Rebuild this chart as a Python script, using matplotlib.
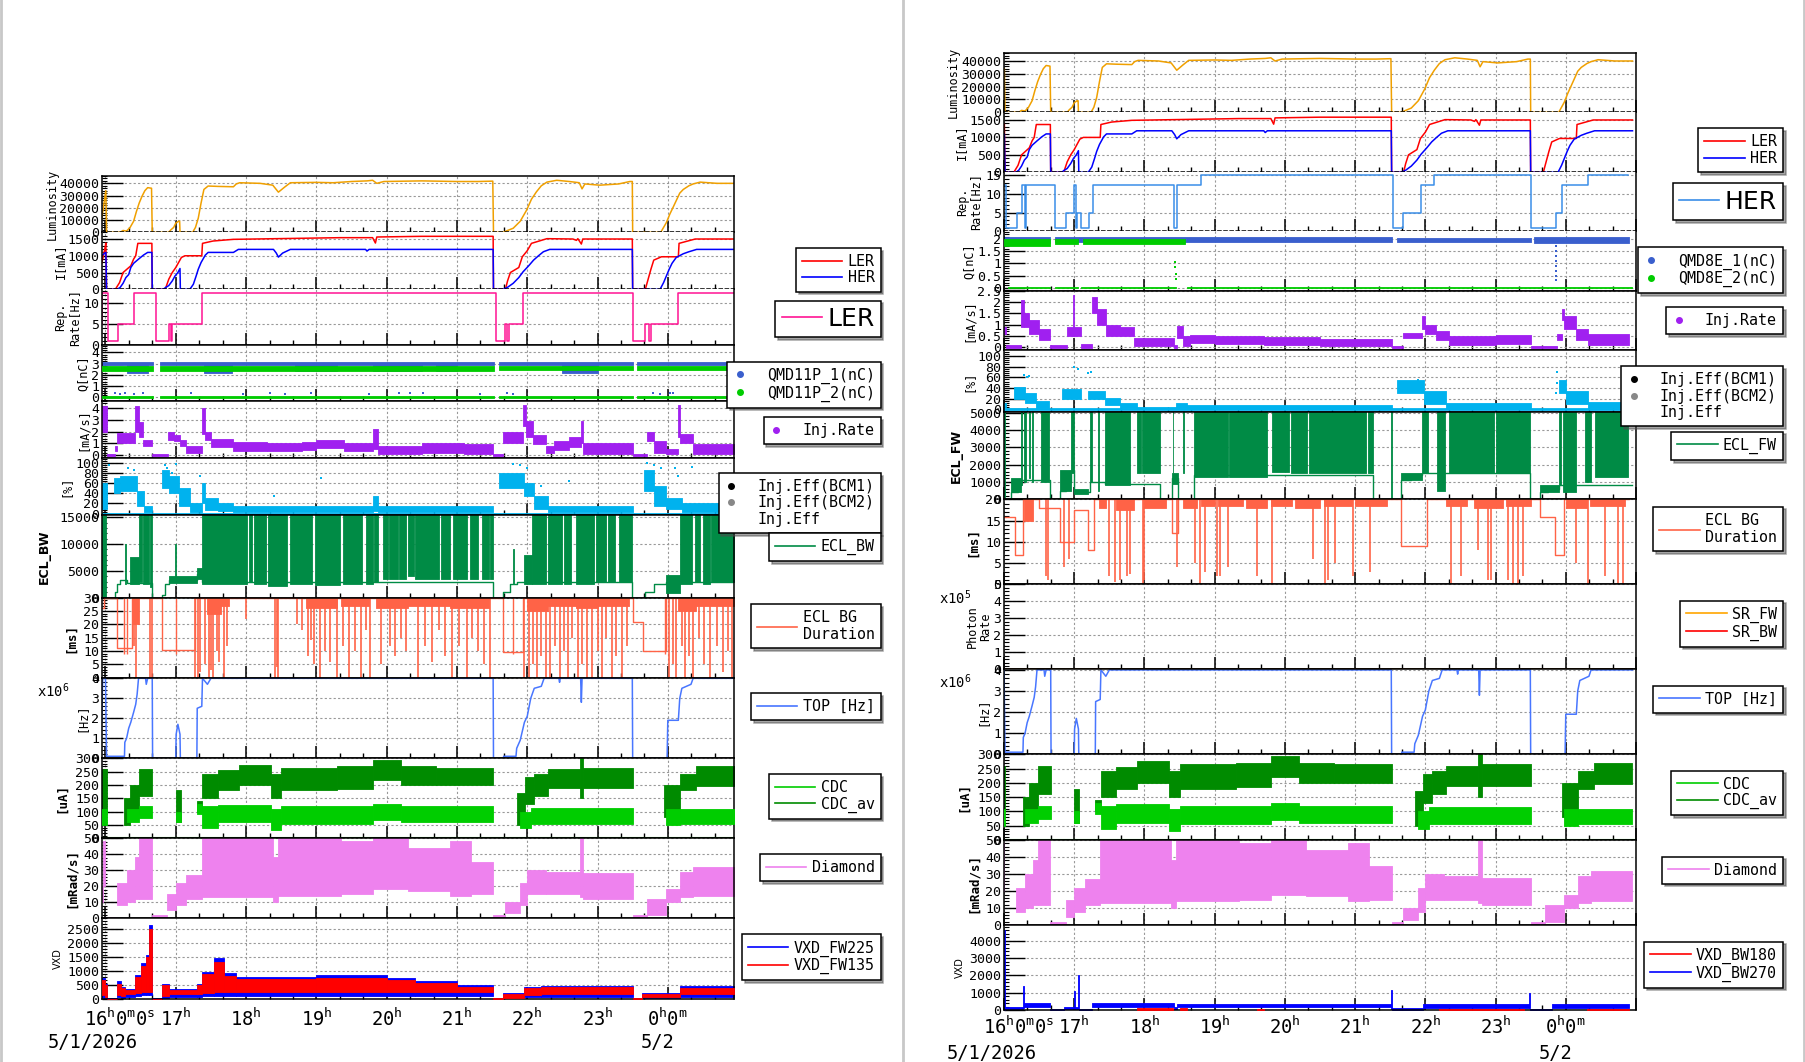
import matplotlib
matplotlib.use("Agg")
import matplotlib.pyplot as plt
from matplotlib.lines import Line2D
from matplotlib.ticker import MultipleLocator, AutoMinorLocator, FuncFormatter

#########################################################
                # Data (time in hours, 24 = 0h on 5/2)
#########################################################

LUMI_T = [15.946, 16.005, 16.015, 16.21, 16.25, 16.3, 16.35, 16.4, 16.44, 16.48, 16.52, 16.56, 16.6, 16.655,
          16.665, 16.9, 16.93, 16.97, 17.0, 17.04, 17.055, 17.06, 17.24, 17.28, 17.32, 17.36, 17.4, 17.46,
          17.6, 17.82, 17.86, 17.91, 18.2, 18.38, 18.46, 18.55, 18.63, 19.0, 19.24, 19.5, 19.72, 19.8,
          19.86, 19.96, 20.5, 21.0, 21.3, 21.51, 21.52, 21.66, 21.72, 21.8, 21.9, 21.99, 22.06, 22.13,
          22.2, 22.28, 22.42, 22.6, 22.74, 22.78, 22.82, 23.03, 23.3, 23.46, 23.495, 23.5, 23.9, 23.98,
          24.03, 24.08, 24.17, 24.22, 24.3, 24.36, 24.46, 24.7, 24.95]
LUMI_V = [11000, 34000, 0, 0, 1500, 1000, 4000, 9000, 17000, 24000, 29500, 34000, 36500, 36000,
          0, 0, 2000, 4000, 7500, 9000, 9000, 0, 0, 4000, 11600, 24000, 35000, 37800,
          37500, 37200, 39500, 40500, 40000, 38500, 32800, 37000, 40500, 40800, 40500, 41500, 42000, 42500,
          40000, 41500, 42000, 41500, 41500, 41800, 0, 0, 1500, 3300, 9000, 18000, 27000, 33000,
          38000, 41000, 42500, 41500, 40500, 35500, 39500, 38500, 39500, 41500, 41500, 0, 0, 8000,
          15000, 21000, 32000, 35000, 38000, 39500, 41000, 40000, 40000]

LER_T = [15.946, 15.97, 15.99, 16.005, 16.015, 16.14, 16.2, 16.25, 16.36, 16.4, 16.43, 16.46, 16.66, 16.665,
         16.85, 16.9, 16.95, 17.0, 17.04, 17.08, 17.13, 17.37, 17.38, 17.53, 17.82, 19.34, 19.8, 19.84,
         19.86, 20.5, 21.515, 21.52, 21.69, 21.72, 21.76, 21.88, 21.93, 22.0, 22.06, 22.28, 22.65, 22.7,
         22.72, 22.77, 22.79, 23.495, 23.5, 23.68, 23.72, 23.76, 23.8, 23.91, 24.15, 24.16, 24.39, 24.95]
LER_V = [780, 1000, 1200, 1380, 0, 0, 200, 500, 700, 900, 1000, 1370, 1370, 0,
         0, 300, 500, 650, 800, 950, 1000, 1000, 1370, 1440, 1490, 1540, 1540, 1380,
         1560, 1580, 1580, 0, 0, 250, 500, 650, 970, 1150, 1370, 1510, 1500, 1460,
         1510, 1350, 1500, 1500, 0, 0, 300, 600, 870, 970, 970, 1370, 1500, 1500]

HER_T = [15.946, 15.99, 16.005, 16.015, 16.17, 16.21, 16.25, 16.29, 16.33, 16.36, 16.4, 16.47, 16.54, 16.6,
         16.66, 16.665, 16.82, 16.86, 16.9, 16.95, 16.99, 17.03, 17.06, 17.065, 17.2, 17.25, 17.29, 17.32,
         17.36, 17.42, 17.46, 17.82, 17.89, 18.39, 18.43, 18.46, 18.52, 18.63, 19.7, 19.72, 19.75, 21.515,
         21.52, 21.66, 21.72, 21.8, 21.88, 21.94, 22.02, 22.09, 22.16, 22.23, 22.32, 23.495, 23.5, 23.89,
         23.94, 23.98, 24.02, 24.06, 24.12, 24.22, 24.3, 24.41, 24.95]
HER_V = [1000, 1080, 1100, 0, 0, 60, 180, 350, 440, 650, 775, 900, 1020, 1100,
         1100, 0, 0, 60, 110, 250, 400, 500, 620, 0, 0, 150, 400, 600,
         800, 1020, 1100, 1100, 1190, 1190, 1080, 960, 1080, 1190, 1190, 1140, 1190, 1190,
         0, 0, 60, 178, 350, 520, 700, 870, 1000, 1120, 1190, 1190, 0, 0,
         200, 400, 600, 775, 950, 1060, 1120, 1190, 1190]

REP_L_T = [15.946, 15.955, 16.03, 16.18, 16.41, 16.72, 16.9, 16.925, 16.95, 17.37, 21.55, 21.69, 21.715,
           21.735, 21.94, 23.51, 23.68, 23.735, 23.755, 24.15, 24.946]
REP_L_V = [5, 12.5, 1, 5, 12.5, 1, 5, 1, 5, 12.5, 1, 5, 1, 5, 12.5, 1, 5, 1, 5, 12.5, 12.5]

REP_H_T = [16.0, 16.03, 16.19, 16.25, 16.3, 16.315, 16.72, 16.89, 16.99, 17.025, 17.035, 17.09, 17.215,
           17.265, 18.425, 18.47, 18.81, 21.54, 21.685, 21.945, 22.125, 23.51, 23.865, 23.94, 24.32, 24.89]
REP_H_V = [12.5, 1, 5, 12.5, 1, 12.5, 1, 5, 12.5, 1, 5, 1, 5, 12.5, 1, 12.5, 15, 1, 5, 12.5, 15, 1, 5,
           12.5, 15, 15]

# (t0, t1, lo, hi) blocks for dense point clouds
QMD_L_BLUE = [(15.946, 16.672, 2.85, 3.1), (16.77, 21.53, 2.85, 3.12), (21.6, 23.51, 2.85, 3.12),
              (23.56, 24.946, 2.85, 3.12)]
QMD_L_BLUE_LOW = [(16.3, 16.6, 2.15, 2.85), (17.4, 17.8, 2.2, 2.85), (18.7, 19.3, 2.3, 2.85),
                  (19.8, 20.5, 2.3, 2.85), (20.7, 21.0, 2.3, 2.85), (22.5, 23.0, 2.2, 2.85)]
QMD_L_GREEN = [(15.946, 16.672, 2.3, 2.8), (16.77, 21.53, 2.35, 2.8), (21.6, 23.51, 2.4, 2.8),
               (23.56, 24.946, 2.4, 2.8)]
QMD_L_ZERO = [(15.946, 16.672, -0.07, 0.08), (16.77, 21.53, -0.07, 0.08), (21.6, 23.51, -0.07, 0.08),
              (23.56, 24.946, -0.07, 0.08)]
QMD_L_DOT_T = [16.14, 16.21, 16.28, 16.4, 16.54, 17.22, 17.96, 18.34, 18.55, 18.92, 19.75, 20.17, 20.52,
               20.33, 21.33, 21.71, 21.8, 23.79, 23.89, 24.03, 24.08]
QMD_L_DOT_V = [0.35, 0.3, 0.36, 0.32, 0.4, 0.36, 0.3, 0.36, 0.33, 0.36, 0.3, 0.36, 0.34,
               0.35, 0.3, 0.36, 0.33, 0.36, 0.3, 0.34, 0.36]

QMD_R_BLUE = [(16.0, 16.66, 1.85, 2.08), (16.73, 21.52, 1.87, 2.08), (21.6, 23.5, 1.87, 2.06),
              (23.55, 24.9, 1.85, 2.08)]
QMD_R_GREEN = [(16.0, 16.66, 1.72, 2.02), (16.73, 17.06, 1.78, 2.0), (17.12, 18.58, 1.8, 2.0)]
QMD_R_ZERO = [(16.05, 16.66, -0.02, 0.05), (16.73, 17.06, -0.02, 0.05), (17.1, 18.45, -0.02, 0.05),
              (18.6, 24.95, -0.02, 0.05)]
QMD_R_DOT_T = [18.44, 18.44, 18.45, 18.45, 23.86, 23.86, 23.86, 23.86, 23.86, 23.86, 23.86, 23.86]
QMD_R_DOT_V = [1.05, 0.85, 0.55, 0.35, 1.7, 1.5, 1.3, 1.1, 0.9, 0.7, 0.5, 0.3]

INJR_L = [(15.946, 16.02, 2.0, 4.2), (16.02, 16.137, -0.05, 0.1), (16.137, 16.17, 0.3, 0.8),
          (16.17, 16.42, 1.0, 1.9), (16.42, 16.47, 2.0, 4.2), (16.47, 16.53, 1.5, 2.8),
          (16.53, 16.66, 0.8, 1.3), (16.66, 16.89, -0.05, 0.1), (16.89, 16.97, 1.3, 2.0),
          (16.97, 17.06, 1.2, 1.7), (17.06, 17.15, 0.8, 1.3), (17.15, 17.38, 0.2, 0.8),
          (17.38, 17.42, 1.8, 4.0), (17.42, 17.5, 1.3, 2.0), (17.5, 17.82, 0.7, 1.4),
          (17.82, 18.3, 0.3, 1.1), (18.3, 18.8, 0.3, 1.0), (18.8, 19.0, 0.4, 1.1), (19.0, 19.4, 0.6, 1.3),
          (19.4, 19.8, 0.3, 1.0), (19.8, 19.88, 0.5, 2.2), (19.88, 20.5, 0.1, 0.8), (20.5, 21.1, 0.2, 1.0),
          (21.1, 21.52, 0.1, 0.9), (21.52, 21.66, -0.05, 0.1), (21.66, 21.94, 1.0, 2.0),
          (21.94, 21.98, 2.5, 4.3), (21.98, 22.08, 1.5, 2.9), (22.08, 22.27, 0.9, 1.7),
          (22.27, 22.38, 0.2, 0.8), (22.38, 22.6, 0.4, 1.2), (22.6, 22.77, 0.7, 1.5),
          (22.77, 22.8, 1.0, 2.9), (22.8, 23.5, 0.1, 1.0), (23.5, 23.7, -0.05, 0.1),
          (23.7, 23.8, 1.2, 2.0), (23.8, 23.98, 0.2, 1.2), (23.98, 24.15, 0.1, 0.5),
          (24.15, 24.18, 1.5, 4.3), (24.18, 24.36, 1.0, 1.8), (24.36, 24.946, 0.1, 0.9)]

INJR_R = [(16.0, 16.03, 0.6, 0.9), (16.03, 16.24, -0.02, 0.1), (16.24, 16.28, 0.9, 2.1),
          (16.28, 16.36, 0.9, 1.5), (16.36, 16.5, 0.6, 1.2), (16.5, 16.66, 0.3, 0.8),
          (16.66, 16.9, -0.02, 0.08), (16.9, 16.98, 0.5, 0.9), (16.98, 17.0, 0.5, 2.3),
          (17.0, 17.09, 0.5, 0.9), (17.09, 17.26, -0.02, 0.15), (17.26, 17.33, 1.5, 2.2),
          (17.33, 17.45, 1.0, 1.7), (17.45, 17.65, 0.5, 1.0), (17.65, 17.85, 0.5, 0.9),
          (17.85, 18.42, 0.05, 0.4), (18.42, 18.47, -0.02, 0.1), (18.47, 18.55, 0.4, 0.95),
          (18.55, 18.65, 0.05, 0.5), (18.65, 19.0, 0.2, 0.55), (19.0, 19.7, 0.15, 0.5),
          (19.7, 20.5, 0.1, 0.45), (20.5, 21.52, 0.05, 0.35), (21.52, 21.68, -0.02, 0.05),
          (21.68, 21.95, 0.4, 0.65), (21.95, 22.0, 0.8, 1.4), (22.0, 22.15, 0.6, 1.0),
          (22.15, 22.34, 0.3, 0.7), (22.34, 23.0, 0.1, 0.5), (23.0, 23.5, 0.15, 0.55),
          (23.5, 23.87, -0.02, 0.05), (23.87, 23.94, 0.3, 0.6), (23.94, 23.98, 1.2, 1.7),
          (23.98, 24.15, 0.8, 1.4), (24.15, 24.32, 0.3, 0.8), (24.32, 24.9, 0.1, 0.6)]

INJE_L = [(15.946, 16.02, 10, 60), (16.12, 16.2, 40, 70), (16.2, 16.45, 45, 75), (16.45, 16.55, 15, 45),
          (16.55, 16.66, 3, 15), (16.8, 16.9, 50, 85), (16.9, 17.05, 40, 75), (17.05, 17.2, 15, 50),
          (17.2, 17.38, 3, 20), (17.38, 17.42, 20, 60), (17.42, 17.6, 8, 30), (17.6, 17.82, 5, 20),
          (17.82, 19.8, 3, 15), (19.8, 19.88, 5, 35), (19.88, 21.52, 3, 16), (21.6, 21.96, 50, 80),
          (21.96, 22.1, 35, 60), (22.1, 22.3, 10, 35), (22.3, 23.5, 3, 15), (23.66, 23.8, 45, 85),
          (23.8, 23.98, 15, 55), (23.98, 24.2, 10, 30), (24.2, 24.946, 3, 20)]
INJE_L_DOT_T = [16.05, 16.32, 16.4, 16.84, 16.87, 16.95, 17.0, 17.35, 18.4, 19.06, 21.8, 21.9, 22.0,
                22.2, 22.6, 23.7, 23.8, 23.9, 24.1, 24.15, 24.35]
INJE_L_DOT_V = [95, 90, 85, 95, 90, 80, 98, 75, 35, 70, 98, 95, 90, 55, 65, 100, 95, 90, 90, 75, 92]

INJE_R = [(16.0, 16.03, 5, 12), (16.14, 16.3, 20, 42), (16.3, 16.45, 12, 30), (16.45, 16.64, 2, 15),
          (16.83, 17.1, 20, 38), (17.2, 17.44, 20, 35), (17.44, 17.65, 8, 22), (17.65, 17.9, 3, 12),
          (17.9, 18.45, 0, 4), (18.45, 18.6, 2, 12), (18.6, 21.52, 1, 9), (21.6, 21.98, 30, 55),
          (21.98, 22.3, 10, 35), (22.3, 23.5, 1, 11), (23.9, 24.0, 30, 55), (24.0, 24.32, 10, 35),
          (24.32, 24.9, 2, 14)]
INJE_R_DOT_T = [16.28, 16.33, 16.35, 17.0, 17.05, 17.2, 17.24, 21.9, 23.86, 23.87, 23.88]
INJE_R_DOT_V = [65, 60, 62, 80, 75, 68, 70, 55, 30, 50, 70]

ECL_L_BASE_T = [15.946, 16.13, 16.16, 16.2, 16.3, 16.665, 16.8, 16.85, 16.9, 17.3, 17.38, 21.515,
                21.66, 21.75, 21.85, 21.95, 23.495, 23.68, 23.8, 23.98, 24.946]
ECL_L_BASE_V = [0, 1000, 2500, 3300, 2800, 0, 500, 2500, 3300, 4500, 3000, 0,
                1000, 2500, 3000, 3000, 0, 1000, 2500, 3000, 3000]
ECL_L_BLOCKS = [(15.946, 16.01, 0, 15500), (16.28, 16.29, 2500, 10000), (16.35, 16.48, 2500, 7500),
                (16.48, 16.52, 3000, 15500), (16.53, 16.62, 2500, 15500), (16.63, 16.665, 2000, 15500),
                (16.9, 17.3, 2800, 4000), (16.995, 17.005, 3000, 10000), (17.3, 17.38, 3500, 5500),
                (17.38, 18.02, 2500, 15500), (18.04, 18.09, 3000, 15500), (18.11, 18.29, 2500, 15500),
                (18.31, 18.58, 2200, 15500), (18.63, 18.94, 2500, 15500), (18.98, 19.34, 2300, 15500),
                (19.38, 19.65, 2500, 15500), (19.7, 19.8, 2500, 15500), (19.82, 19.88, 3000, 15500),
                (19.95, 20.02, 3500, 15500), (20.04, 20.16, 3500, 15500), (20.18, 20.28, 3500, 15500),
                (20.3, 20.39, 4000, 15500), (20.41, 20.74, 3500, 15500), (20.78, 20.9, 3500, 15500),
                (20.95, 21.14, 3500, 15500), (21.19, 21.3, 3500, 15500), (21.35, 21.45, 3500, 15500),
                (21.47, 21.515, 3500, 15500), (21.8, 21.81, 2500, 9000), (21.95, 22.07, 2500, 8000),
                (22.07, 22.27, 2500, 15500), (22.3, 22.5, 2500, 15500), (22.52, 22.62, 2500, 15500),
                (22.7, 22.95, 2500, 15500), (22.98, 23.12, 3000, 15500), (23.15, 23.25, 3000, 15500),
                (23.3, 23.495, 3000, 15500), (23.98, 24.17, 800, 4200), (24.17, 24.35, 2500, 15500),
                (24.38, 24.46, 3000, 15500), (24.5, 24.6, 2500, 15500), (24.62, 24.946, 3000, 15500)]

ECL_R_BASE_T = [16.0, 16.1, 16.2, 16.24, 16.66, 16.8, 16.88, 16.95, 17.0, 17.22, 17.44, 18.22, 18.39,
                18.48, 18.7, 21.26, 21.66, 21.8, 21.95, 23.49, 23.63, 23.75, 23.9, 24.95]
ECL_R_BASE_V = [0, 400, 800, 1100, 0, 500, 1000, 1700, 400, 1000, 900, 0, 1200,
                0, 1400, 0, 1100, 1400, 1500, 0, 400, 600, 800, 800]
ECL_R_BLOCKS = [(16.0, 16.02, 0, 5100), (16.1, 16.24, 400, 1200), (16.245, 16.26, 800, 5100),
                (16.29, 16.31, 1000, 5100), (16.35, 16.37, 1200, 5100), (16.4, 16.42, 1000, 5100),
                (16.53, 16.64, 1000, 5100), (16.8, 16.95, 500, 1700), (16.96, 16.99, 1500, 5100),
                (17.0, 17.2, 300, 600), (17.22, 17.26, 1000, 5100), (17.34, 17.35, 500, 5100),
                (17.44, 17.79, 850, 5100), (17.89, 17.95, 1500, 5100), (17.97, 18.22, 1500, 5100),
                (18.39, 18.48, 900, 1500), (18.4, 18.41, 1500, 5100), (18.55, 18.56, 1500, 5100),
                (18.7, 19.19, 1300, 5100), (19.2, 19.74, 1300, 5100), (19.81, 20.06, 1600, 5100),
                (20.08, 20.32, 1500, 5100), (20.34, 21.16, 1500, 5100), (21.19, 21.26, 1500, 5100),
                (21.51, 21.52, 0, 5100), (21.66, 21.95, 1100, 1500), (21.95, 22.04, 1500, 5100),
                (22.16, 22.28, 500, 5100), (22.33, 22.98, 1500, 5100), (23.0, 23.49, 1500, 5100),
                (23.63, 23.9, 400, 800), (23.9, 23.93, 800, 5100), (23.96, 24.15, 400, 5100),
                (24.27, 24.36, 1000, 5100), (24.41, 24.89, 1300, 5100)]

ECLBG_L_LEVEL_T = [15.946, 15.975, 16.17, 16.38, 16.8, 17.27, 21.66, 21.94, 23.51, 23.65, 23.98, 24.946]
ECLBG_L_LEVEL_V = [26, 30, 11, 30, 10.5, 30, 9.5, 30, 21, 10, 30, 30]
ECLBG_L_UP = [16.26, 16.3, 17.0, 21.8, 23.96]
ECLBG_L_DENSE = [(16.38, 16.47, 20), (17.45, 17.65, 24), (17.65, 17.75, 27), (18.85, 19.3, 26),
                 (19.35, 19.75, 27), (19.85, 20.3, 26), (20.3, 20.9, 27), (20.9, 21.45, 26),
                 (22.0, 22.3, 25), (22.3, 22.7, 27), (22.7, 23.0, 26), (23.0, 23.45, 27),
                 (24.15, 24.4, 25), (24.4, 24.946, 27)]
ECLBG_L_SPK_T = [16.41, 16.44, 16.63, 16.66, 17.28, 17.31, 17.34, 17.41, 17.47, 17.5, 17.53, 17.58, 17.62,
                 17.69, 17.73, 18.0, 18.41, 18.44, 18.46, 18.72, 18.8, 18.88, 18.93, 18.97, 19.05, 19.12,
                 19.2, 19.29, 19.38, 19.46, 19.55, 19.63, 19.7, 19.77, 19.92, 20.05, 20.12, 20.2, 20.28,
                 20.45, 20.55, 20.65, 20.74, 20.83, 20.93, 21.03, 21.14, 21.22, 21.3, 21.38, 21.47, 21.96,
                 22.02, 22.08, 22.14, 22.2, 22.27, 22.33, 22.4, 22.47, 22.52, 22.58, 22.64, 22.72, 22.78,
                 22.85, 22.92, 23.0, 23.06, 23.12, 23.2, 23.27, 23.35, 23.42, 24.02, 24.07, 24.12, 24.2,
                 24.25, 24.3, 24.36, 24.45, 24.52, 24.6, 24.7, 24.78, 24.85, 24.92]
ECLBG_L_SPK_V = [12, 0, 0, 0, 0, 0, 2, 5, 0, 3, 0, 10, 6,
                 0, 12, 22, 0, 4, 0, 20, 18, 8, 14, 5, 0, 10,
                 6, 0, 12, 0, 10, 0, 18, 0, 5, 12, 8, 15, 10,
                 0, 12, 6, 18, 8, 0, 12, 0, 15, 10, 5, 0, 0,
                 0, 5, 0, 8, 0, 0, 12, 0, 10, 0, 15, 0, 5,
                 0, 0, 10, 0, 15, 0, 8, 0, 12, 0, 5, 0, 12,
                 0, 8, 0, 15, 5, 0, 12, 2, 10, 0]

ECLBG_R_LEVEL_T = [16.0, 16.157, 16.27, 16.5, 16.8, 17.0, 17.2, 17.28, 18.39, 18.48, 21.66, 22.03, 23.63,
                   23.84, 23.97, 24.9]
ECLBG_R_LEVEL_V = [15.8, 7, 20, 17.9, 10, 17.6, 8, 20, 12, 20, 9, 20, 15.8, 7, 20, 20]
ECLBG_R_DENSE = [(16.28, 16.42, 15), (17.35, 17.45, 18), (17.6, 17.85, 17.5), (18.0, 18.3, 18),
                 (18.55, 18.75, 18), (18.8, 19.0, 18.5), (19.05, 19.4, 18.5), (19.45, 19.75, 18),
                 (19.8, 20.1, 18.5), (20.15, 20.5, 18), (20.55, 20.95, 18.5), (21.0, 21.45, 18.5),
                 (22.3, 22.6, 18.5), (22.7, 23.1, 18), (23.15, 23.5, 18.5), (24.0, 24.3, 18), (24.35, 24.85, 18.5)]
ECLBG_R_SPK_T = [16.6, 16.62, 16.85, 16.92, 17.49, 17.58, 17.65, 17.75, 17.79, 17.98, 18.0, 18.46, 18.72,
                 18.79, 18.86, 19.03, 19.08, 19.19, 19.6, 19.81, 20.4, 20.57, 20.62, 20.71, 20.97, 21.21,
                 22.37, 22.51, 22.75, 22.89, 22.94, 23.18, 23.25, 23.32, 23.39, 24.15, 24.32, 24.555,
                 24.745, 24.815]
ECLBG_R_SPK_V = [2, 1, 4, 6, 2, 0.5, 1, 2, 2.5, 0, 1, 4, 5,
                 0, 3, 2, 2, 4, 2, 0, 6, 0, 1, 5, 2, 3,
                 0, 2, 8, 1, 1, 1, 0, 0, 2, 5, 0, 2, 0, 0]

SR_T = [16.0, 24.95]
SR_FW_V = [0, 0]
SR_BW_V = [0, 0]

TOP_T = [15.946, 15.96, 16.0, 16.015, 16.27, 16.275, 16.3, 16.33, 16.36, 16.4, 16.43, 16.45, 16.47, 16.57,
         16.58, 16.6, 16.665, 16.67, 17.0, 17.005, 17.03, 17.06, 17.065, 17.3, 17.305, 17.37, 17.38,
         17.45, 17.5, 21.515, 21.52, 21.66, 21.665, 21.84, 21.85, 21.9, 21.96, 22.0, 22.05, 22.1, 22.2,
         22.24, 22.45, 22.46, 22.47, 22.76, 22.77, 22.78, 23.495, 23.5, 23.99, 24.0, 24.15, 24.17,
         24.2, 24.33, 24.36, 24.95]
TOP_V = [1.8, 4.0, 4.0, 0.1, 0.1, 0.8, 1.0, 1.5, 1.8, 2.3, 2.7, 3.2, 4.0, 4.0,
         3.7, 4.0, 4.0, 0.0, 0.0, 1.2, 1.7, 1.2, 0.0, 0.0, 2.5, 2.6, 4.0,
         3.7, 4.0, 4.0, 0.0, 0.0, 0.1, 0.1, 0.5, 0.9, 1.8, 2.1, 3.0, 3.5, 3.6,
         4.0, 4.0, 3.8, 4.0, 4.0, 2.8, 4.0, 4.0, 0.0, 0.0, 1.9, 1.9, 3.0,
         3.5, 3.7, 4.0, 4.0]

CDC_AV = [(15.946, 16.02, 100, 260), (16.27, 16.35, 50, 150), (16.35, 16.48, 90, 200),
          (16.48, 16.665, 160, 260), (17.0, 17.07, 60, 180), (17.3, 17.38, 100, 140),
          (17.38, 17.6, 150, 240), (17.6, 17.9, 180, 255), (17.9, 18.35, 200, 275), (18.35, 18.5, 150, 240),
          (18.5, 19.3, 180, 265), (19.3, 19.8, 185, 270), (19.8, 20.2, 220, 295), (20.2, 20.7, 200, 270),
          (20.7, 21.52, 200, 265), (21.85, 21.97, 50, 170), (21.97, 22.1, 130, 230), (22.1, 22.3, 160, 240),
          (22.3, 22.75, 190, 260), (22.75, 22.8, 150, 300), (22.8, 23.5, 190, 265), (23.95, 24.17, 80, 200),
          (24.17, 24.4, 180, 240), (24.4, 24.95, 195, 270)]
CDC = [(15.946, 16.02, 50, 110), (16.3, 16.48, 60, 110), (16.48, 16.665, 75, 120), (17.0, 17.07, 60, 100),
       (17.3, 17.38, 90, 130), (17.38, 17.6, 40, 120), (17.6, 18.35, 60, 125), (18.35, 18.5, 30, 110),
       (18.5, 19.8, 55, 120), (19.8, 20.2, 70, 130), (20.2, 21.52, 60, 120), (21.9, 22.05, 40, 100),
       (22.05, 23.5, 55, 115), (23.97, 24.17, 50, 110), (24.17, 24.95, 55, 110)]

DIAMOND = [(15.946, 15.96, 10, 20), (15.96, 16.0, 20, 48), (16.0, 16.17, 0, 1), (16.17, 16.3, 8, 22),
           (16.3, 16.42, 10, 30), (16.42, 16.48, 12, 38), (16.48, 16.66, 12, 50), (16.66, 16.88, 0, 2),
           (16.88, 17.0, 5, 15), (17.0, 17.15, 8, 22), (17.15, 17.37, 12, 27), (17.37, 18.38, 13, 50),
           (18.38, 18.45, 10, 38), (18.45, 19.35, 14, 50), (19.35, 19.8, 15, 48), (19.8, 20.3, 18, 50),
           (20.3, 20.9, 17, 44), (20.9, 21.2, 14, 48), (21.2, 21.52, 15, 35), (21.52, 21.68, 0, 2),
           (21.68, 21.9, 3, 10), (21.9, 22.0, 8, 22), (22.0, 22.27, 15, 30), (22.27, 22.75, 15, 29),
           (22.75, 22.8, 13, 50), (22.8, 23.5, 12, 28), (23.5, 23.7, 0, 2), (23.7, 23.98, 2, 12),
           (23.98, 24.17, 10, 18), (24.17, 24.36, 13, 29), (24.36, 24.95, 14, 32)]

VXD_FW225 = [(15.946, 15.99, 50, 760), (15.99, 16.02, 30, 540), (16.02, 16.17, 0, 40), (16.17, 16.22, 80, 640),
             (16.22, 16.28, 60, 450), (16.28, 16.42, 100, 360), (16.42, 16.5, 120, 880), (16.5, 16.57, 150, 1300),
             (16.57, 16.62, 150, 1600), (16.62, 16.66, 150, 2650), (16.66, 16.8, 0, 40), (16.8, 16.9, 60, 560),
             (16.9, 17.3, 100, 370), (17.3, 17.38, 100, 560), (17.38, 17.55, 120, 980), (17.55, 17.68, 120, 1480),
             (17.68, 17.85, 120, 930), (17.85, 19.0, 120, 800), (19.0, 20.0, 120, 870), (20.0, 20.4, 120, 780),
             (20.4, 21.0, 130, 660), (21.0, 21.52, 130, 500), (21.52, 21.66, 0, 50), (21.66, 21.96, 30, 230),
             (21.96, 22.2, 80, 440), (22.2, 23.5, 100, 470), (23.5, 23.63, 0, 50), (23.63, 24.17, 60, 220),
             (24.17, 24.946, 100, 460)]
VXD_FW135 = [(15.946, 15.99, 150, 700), (15.99, 16.02, 100, 500), (16.02, 16.17, 0, 20), (16.17, 16.22, 150, 560),
             (16.22, 16.28, 130, 400), (16.28, 16.42, 180, 320), (16.42, 16.5, 220, 800), (16.5, 16.57, 250, 1200),
             (16.57, 16.62, 250, 1500), (16.62, 16.66, 250, 2500), (16.66, 16.8, 0, 20), (16.8, 16.9, 120, 500),
             (16.9, 17.3, 180, 330), (17.3, 17.38, 200, 500), (17.38, 17.55, 240, 900), (17.55, 17.68, 250, 1350),
             (17.68, 17.85, 250, 850), (17.85, 19.0, 250, 720), (19.0, 20.0, 250, 780), (20.0, 20.4, 250, 700),
             (20.4, 21.0, 260, 600), (21.0, 21.52, 260, 450), (21.52, 21.66, 0, 30), (21.66, 21.96, 60, 200),
             (21.96, 22.2, 150, 400), (22.2, 23.5, 180, 430), (23.5, 23.63, 0, 30), (23.63, 24.17, 100, 180),
             (24.17, 24.946, 180, 420)]

VXD_BW270 = [(16.0, 16.01, 0, 4600), (16.01, 16.27, 30, 150), (16.27, 16.29, 100, 1400), (16.29, 16.66, 150, 400),
             (16.66, 16.85, 0, 30), (16.85, 17.0, 50, 150), (17.0, 17.01, 50, 1100), (17.01, 17.06, 50, 150),
             (17.06, 17.07, 50, 2000), (17.07, 17.25, 0, 40), (17.25, 18.42, 150, 420), (18.42, 18.46, 50, 200),
             (18.46, 21.51, 150, 350), (21.51, 21.53, 50, 1150), (21.53, 21.97, 20, 100), (21.97, 23.47, 130, 330),
             (23.47, 23.49, 100, 1000), (23.49, 23.8, 20, 80), (23.8, 24.9, 130, 330)]
VXD_BW180 = [(17.9, 18.4, 0, 90), (18.5, 18.6, 0, 90), (19.6, 19.7, 0, 80), (22.2, 23.4, 0, 70),
             (24.3, 24.9, 0, 60)]

#########################################################
                # Figure helpers
#########################################################

W, H = 1806, 1062
plt.rcParams['font.family'] = 'DejaVu Sans Mono'
plt.rcParams['mathtext.default'] = 'regular'

C_LUMI = '#f0a000'
C_LER = '#ff0000'
C_HER = '#0000ff'
C_REPL = '#ff1493'
C_REPH = '#3a8ee8'
C_QB = '#3a5fcd'
C_QG = '#00cc00'
C_INJR = '#a020f0'
C_INJE = '#00b2ee'
C_ECL = '#008b45'
C_BG = '#ff6347'
C_TOP = '#4876ff'
C_CDC = '#00cd00'
C_CDCAV = '#008b00'
C_DIA = '#ee82ee'

fig = plt.figure(figsize=(W / 100, H / 100), dpi=100)


def panel(x0, x1, y0, y1):
    return fig.add_axes([x0 / W, 1 - y1 / H, (x1 - x0) / W, (y1 - y0) / H])


def style(ax, xlim, ylim, step):
    ax.set_xlim(*xlim)
    ax.set_ylim(*ylim)
    ax.set_axisbelow(True)
    ax.xaxis.set_major_locator(MultipleLocator(1))
    ax.xaxis.set_minor_locator(MultipleLocator(1 / 3))
    ax.yaxis.set_major_locator(MultipleLocator(step))
    ax.yaxis.set_minor_locator(AutoMinorLocator(5))
    ax.yaxis.set_major_formatter(FuncFormatter(lambda v, p: '%g' % v))
    ax.tick_params(axis='x', which='major', direction='in', length=8.5, width=1.1, labelbottom=False)
    ax.tick_params(axis='x', which='minor', direction='in', length=3.5, width=1)
    ax.tick_params(axis='y', which='major', direction='in', length=15, width=1, labelsize=9.5, pad=2)
    ax.tick_params(axis='y', which='minor', direction='in', length=3.5, width=0.8)
    ax.grid(True, which='major', color='#999999', linestyle=(0, (2, 2)), linewidth=0.8)
    for s in ax.spines.values():
        s.set_linewidth(1.1)


def blocks(ax, items, color, z=2):
    for t0, t1, lo, hi in items:
        ax.fill_between([t0, t1], [lo, lo], [hi, hi], color=color, edgecolor=color, lw=0.6, zorder=z)


def legend(handles, labels, right, top, size=10.8, family='DejaVu Sans Mono', hl=2.7, htp=0.35, bp=0.4):
    leg = fig.legend(handles, labels, loc='upper right', bbox_to_anchor=(right / W, 1 - top / H),
                     prop={'family': family, 'size': size}, frameon=True, fancybox=False, shadow=True,
                     edgecolor='black', framealpha=1, borderpad=bp, labelspacing=0.1,
                     handlelength=hl, handletextpad=htp, borderaxespad=0)
    leg.get_frame().set_linewidth(1.1)


def ln(c):
    return Line2D([], [], color=c, lw=1.2)


def mk(c):
    return Line2D([], [], color=c, marker='o', ls='', ms=4)


def ylab(x, ycen, text, size=8.5, weight='normal', family='DejaVu Sans Mono'):
    fig.text(x / W, 1 - ycen / H, text, rotation=90, ha='center', va='center', fontsize=size,
             fontweight=weight, family=family, linespacing=1.05)


def time_labels(x0, x1, xlim, ytop, xdate, ydate):
    def px(h):
        return x0 + (h - xlim[0]) / (xlim[1] - xlim[0]) * (x1 - x0)
    fig.text((px(16) - 21) / W, 1 - ytop / H, r'$16^{h}0^{m}0^{s}$', ha='left', va='top', fontsize=13.5)
    for h in range(17, 24):
        fig.text(px(h) / W, 1 - ytop / H, r'$%d^{h}$' % h, ha='center', va='top', fontsize=13.5)
    fig.text(px(24) / W, 1 - ytop / H, r'$0^{h}0^{m}$', ha='center', va='top', fontsize=13.5)
    fig.text(xdate / W, 1 - ydate / H, '5/1/2026', ha='left', va='top', fontsize=13.5)
    fig.text((px(24) - 10) / W, 1 - ydate / H, '5/2', ha='center', va='top', fontsize=13.5)


def dotted_boundary(upper, lower):
    upper.spines['bottom'].set_linestyle((0, (2, 2)))
    lower.spines['top'].set_visible(False)

#########################################################
                # Left panel (LER)
#########################################################

LX = (101.7, 734.3)
LXLIM = (15.946, 24.946)
LY = [176, 232.3, 289.3, 345, 401, 457.7, 515, 597.7, 677.7, 758.3, 838.3, 918.3, 999.3]
la = [panel(LX[0], LX[1], LY[i], LY[i + 1]) for i in range(12)]

ax = la[0]
style(ax, LXLIM, (0, 46000), 10000)
ax.plot(LUMI_T, LUMI_V, color=C_LUMI, lw=1.1)

ax = la[1]
style(ax, LXLIM, (0, 1700), 500)
ax.plot(LER_T, LER_V, color=C_LER, lw=1.1)
ax.plot(HER_T, HER_V, color=C_HER, lw=1.1)

ax = la[2]
style(ax, LXLIM, (0, 13.4), 5)
ax.step(REP_L_T, REP_L_V, where='post', color=C_REPL, lw=1.1)

ax = la[3]
style(ax, LXLIM, (-0.33, 4.65), 1)
blocks(ax, QMD_L_BLUE, C_QB)
blocks(ax, QMD_L_BLUE_LOW, C_QB)
blocks(ax, QMD_L_GREEN, C_QG, 3)
blocks(ax, QMD_L_ZERO, C_QG, 3)
ax.plot(QMD_L_DOT_T, QMD_L_DOT_V, 's', color=C_QB, ms=1.8, mew=0)

ax = la[4]
style(ax, LXLIM, (-0.23, 4.6), 1)
blocks(ax, INJR_L, C_INJR)

ax = la[5]
style(ax, LXLIM, (-2.6, 110), 20)
ax.plot([LXLIM[0], LXLIM[1]], [0, 0], color=C_INJE, lw=2)
blocks(ax, INJE_L, C_INJE)
ax.plot(INJE_L_DOT_T, INJE_L_DOT_V, 's', color=C_INJE, ms=2, mew=0)

ax = la[6]
style(ax, LXLIM, (0, 15400), 5000)
ax.step(ECL_L_BASE_T, ECL_L_BASE_V, where='post', color=C_ECL, lw=1)
blocks(ax, ECL_L_BLOCKS, C_ECL)

ax = la[7]
style(ax, LXLIM, (0, 30), 5)
ax.step(ECLBG_L_LEVEL_T, ECLBG_L_LEVEL_V, where='post', color=C_BG, lw=1)
ax.vlines(ECLBG_L_UP, 9, 30, color=C_BG, lw=1)
blocks(ax, [(a, b, lo, 30) for a, b, lo in ECLBG_L_DENSE], C_BG)
ax.vlines(ECLBG_L_SPK_T, ECLBG_L_SPK_V, 30, color=C_BG, lw=1.2)

ax = la[8]
style(ax, LXLIM, (0, 4.03), 1)
ax.plot(TOP_T, TOP_V, color=C_TOP, lw=1.1)

ax = la[9]
style(ax, LXLIM, (0, 300), 50)
ax.plot([LXLIM[0], LXLIM[1]], [0, 0], color=C_CDC, lw=1.5)
blocks(ax, CDC_AV, C_CDCAV)
blocks(ax, CDC, C_CDC, 3)

ax = la[10]
style(ax, LXLIM, (0, 50), 10)
blocks(ax, DIAMOND, C_DIA)

ax = la[11]
style(ax, LXLIM, (0, 2900), 500)
blocks(ax, VXD_FW225, C_HER)
blocks(ax, VXD_FW135, C_LER, 3)

dotted_boundary(la[0], la[1])
dotted_boundary(la[1], la[2])

lc = lambda i: (LY[i] + LY[i + 1]) / 2
ylab(52.5, lc(0), 'Luminosity')
ylab(60, lc(1), 'I[mA]')
ylab(67.5, lc(2), 'Rep.\nRate[Hz]')
ylab(83, lc(3), 'Q[nC]')
ylab(83, lc(4), '[mA/s]')
ylab(66, lc(5), '[%]')
ylab(44, lc(6), 'ECL_BW', 9, 'bold', 'DejaVu Sans')
ylab(71, lc(7), '[ms]', 9, 'bold')
ylab(82, lc(8), '[Hz]')
ylab(62, lc(9), '[uA]', 9, 'bold')
ylab(71, lc(10), '[mRad/s]', 9, 'bold')
ylab(58, lc(11), 'VXD', 7, 'normal', 'DejaVu Sans')
fig.text(37 / W, 1 - 691 / H, r'x10$^{6}$', ha='left', va='center', fontsize=10)

time_labels(LX[0], LX[1], LXLIM, 1008, 48, 1033)

legend([ln(C_LER), ln(C_HER)], ['LER', 'HER'], 880.7, 248)
legend([ln(C_REPL)], ['LER'], 880.7, 300.7, 18, ['Liberation Sans Narrow', 'DejaVu Sans'], 1.6, 0.22, 0.25)
legend([mk(C_QB), mk(C_QG)], ['QMD11P_1(nC)', 'QMD11P_2(nC)'], 880.7, 361.7, hl=0.9, htp=1.35)
legend([mk(C_INJR)], ['Inj.Rate'], 880.7, 417, hl=0.9, htp=1.3)
legend([mk('black'), mk('#888888'), mk('none')], ['Inj.Eff(BCM1)', 'Inj.Eff(BCM2)', 'Inj.Eff'],
       880.7, 473, hl=0.9, htp=1.3)
legend([ln(C_ECL)], ['ECL_BW'], 880.7, 533)
legend([ln(C_BG)], ['ECL BG\nDuration'], 880.7, 604)
legend([ln(C_TOP)], ['TOP [Hz]'], 880.7, 693)
legend([ln(C_CDC), ln(C_CDCAV)], ['CDC', 'CDC_av'], 880.7, 774)
legend([ln(C_DIA)], ['Diamond'], 880.7, 854)
legend([ln(C_HER), ln(C_LER)], ['VXD_FW225', 'VXD_FW135'], 880.7, 934.3)

#########################################################
                # Right panel (HER)
#########################################################

RX = (1004, 1636)
RXLIM = (16.0, 25.0)
RY = [53.3, 112.3, 172.3, 231.3, 290.7, 350, 412, 499.3, 584.3, 669.3, 754.3, 840, 925.3, 1010]
ra = [panel(RX[0], RX[1], RY[i], RY[i + 1]) for i in range(13)]

ax = ra[0]
style(ax, RXLIM, (0, 46000), 10000)
ax.plot(LUMI_T, LUMI_V, color=C_LUMI, lw=1.1)

ax = ra[1]
style(ax, RXLIM, (0, 1720), 500)
ax.plot(LER_T, LER_V, color=C_LER, lw=1.1)
ax.plot(HER_T, HER_V, color=C_HER, lw=1.1)

ax = ra[2]
style(ax, RXLIM, (0, 15.8), 5)
ax.step(REP_H_T, REP_H_V, where='post', color=C_REPH, lw=1.1)

ax = ra[3]
style(ax, RXLIM, (-0.12, 2.32), 0.5)
blocks(ax, QMD_R_BLUE, C_QB)
blocks(ax, QMD_R_GREEN, C_QG, 3)
blocks(ax, QMD_R_ZERO, C_QG, 3)
ax.plot(QMD_R_DOT_T[:4], QMD_R_DOT_V[:4], 's', color=C_QG, ms=2, mew=0)
ax.plot(QMD_R_DOT_T[4:], QMD_R_DOT_V[4:], 's', color=C_QB, ms=1.8, mew=0)

ax = ra[4]
style(ax, RXLIM, (-0.12, 2.5), 0.5)
blocks(ax, INJR_R, C_INJR)

ax = ra[5]
style(ax, RXLIM, (-5, 111), 20)
ax.plot([16.0, 24.95], [0, 0], color=C_INJE, lw=2)
blocks(ax, INJE_R, C_INJE)
ax.plot(INJE_R_DOT_T, INJE_R_DOT_V, 's', color=C_INJE, ms=2, mew=0)

ax = ra[6]
style(ax, RXLIM, (0, 5030), 1000)
ax.step(ECL_R_BASE_T, ECL_R_BASE_V, where='post', color=C_ECL, lw=1)
blocks(ax, ECL_R_BLOCKS, C_ECL)

ax = ra[7]
style(ax, RXLIM, (0, 20), 5)
ax.step(ECLBG_R_LEVEL_T, ECLBG_R_LEVEL_V, where='post', color=C_BG, lw=1)
blocks(ax, [(a, b, lo, 20) for a, b, lo in ECLBG_R_DENSE], C_BG)
ax.vlines(ECLBG_R_SPK_T, ECLBG_R_SPK_V, 20, color=C_BG, lw=1.2)

ax = ra[8]
style(ax, RXLIM, (0, 5.0), 1)
ax.plot(SR_T, SR_BW_V, color=C_LER, lw=1.2)
ax.plot(SR_T, SR_FW_V, color='#ffa500', lw=1.2)

ax = ra[9]
style(ax, RXLIM, (0, 4.03), 1)
ax.plot(TOP_T, TOP_V, color=C_TOP, lw=1.1)

ax = ra[10]
style(ax, RXLIM, (0, 300), 50)
ax.plot([16.0, 25.0], [0, 0], color=C_CDC, lw=1.5)
blocks(ax, CDC_AV, C_CDCAV)
blocks(ax, CDC, C_CDC, 3)

ax = ra[11]
style(ax, RXLIM, (0, 50), 10)
blocks(ax, DIAMOND, C_DIA)

ax = ra[12]
style(ax, RXLIM, (0, 4900), 1000)
blocks(ax, VXD_BW270, C_HER)
blocks(ax, VXD_BW180, C_LER, 3)

dotted_boundary(ra[0], ra[1])
dotted_boundary(ra[1], ra[2])
dotted_boundary(ra[2], ra[3])

rc = lambda i: (RY[i] + RY[i + 1]) / 2
ylab(953, rc(0), 'Luminosity')
ylab(961, rc(1), 'I[mA]')
ylab(969, rc(2), 'Rep.\nRate[Hz]')
ylab(969, rc(3), 'Q[nC]')
ylab(969, rc(4), '[mA/s]')
ylab(969, rc(5), '[%]')
ylab(956, rc(6), 'ECL_FW', 9, 'bold', 'DejaVu Sans')
ylab(973, rc(7), '[ms]', 9, 'bold')
ylab(979, rc(8), 'Photon\nRate')
ylab(983, rc(9), '[Hz]')
ylab(964, rc(10), '[uA]', 9, 'bold')
ylab(973, rc(11), '[mRad/s]', 9, 'bold')
ylab(960, rc(12), 'VXD', 7, 'normal', 'DejaVu Sans')
fig.text(939 / W, 1 - 598 / H, r'x10$^{5}$', ha='left', va='center', fontsize=10)
fig.text(939 / W, 1 - 682 / H, r'x10$^{6}$', ha='left', va='center', fontsize=10)

time_labels(RX[0], RX[1], RXLIM, 1016, 946.7, 1044)

legend([ln(C_LER), ln(C_HER)], ['LER', 'HER'], 1783, 128.3)
legend([ln(C_REPH)], ['HER'], 1783, 183.3, 18, ['Liberation Sans Narrow', 'DejaVu Sans'], 1.6, 0.22, 0.25)
legend([mk(C_QB), mk(C_QG)], ['QMD8E_1(nC)', 'QMD8E_2(nC)'], 1783, 247.3, hl=0.9, htp=1.35)
legend([mk(C_INJR)], ['Inj.Rate'], 1783, 307.3, hl=0.9, htp=1.3)
legend([mk('black'), mk('#888888'), mk('none')], ['Inj.Eff(BCM1)', 'Inj.Eff(BCM2)', 'Inj.Eff'],
       1783, 366.3, hl=0.9, htp=1.3)
legend([ln(C_ECL)], ['ECL_FW'], 1783, 431.7)
legend([ln(C_BG)], ['ECL BG\nDuration'], 1783, 506.7)
legend([ln('#ffa500'), ln(C_LER)], ['SR_FW', 'SR_BW'], 1783, 600.7)
legend([ln(C_TOP)], ['TOP [Hz]'], 1783, 685.7)
legend([ln(C_CDC), ln(C_CDCAV)], ['CDC', 'CDC_av'], 1783, 770.7)
legend([ln(C_DIA)], ['Diamond'], 1783, 856.7)
legend([ln(C_LER), ln(C_HER)], ['VXD_BW180', 'VXD_BW270'], 1783, 941.7)

# frame lines between the two images
for xb in (1.5, 903, 1804.5):
    fig.add_artist(Line2D([xb / W, xb / W], [0, 1], color='#c8c8c8', lw=2, transform=fig.transFigure))

fig.savefig('out.png', dpi=100)
